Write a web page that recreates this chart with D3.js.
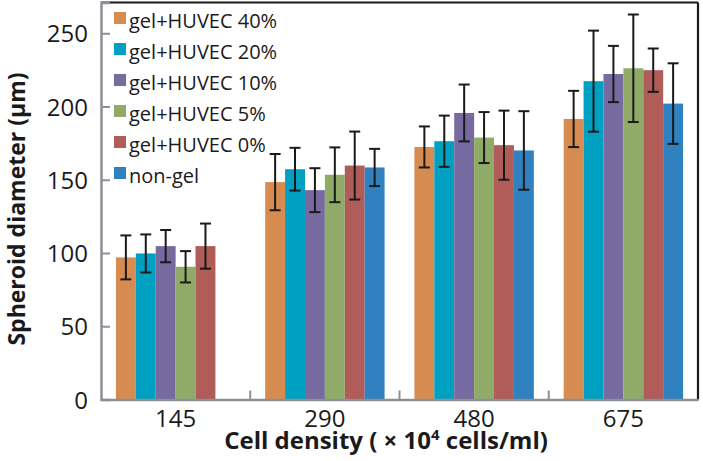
<!DOCTYPE html>
<html><head><meta charset="utf-8">
<script src="https://cdn.jsdelivr.net/npm/d3@7"></script>
<style>html,body{margin:0;padding:0;background:#fff;}svg{display:block;}</style>
</head><body>
<script>
const categories = ["145", "290", "480", "675"];
const seriesNames = ["gel+HUVEC 40%", "gel+HUVEC 20%", "gel+HUVEC 10%", "gel+HUVEC 5%", "gel+HUVEC 0%", "non-gel"];
const seriesColors = ["#d68b50", "#00a0c2", "#766aa0", "#90aa68", "#b05c58", "#2f81c0"];
// means per series, by category
const means = [
  [97, 148.4, 172.4, 191.5],
  [99.7, 157.2, 176.3, 217.3],
  [104.7, 142.9, 195.6, 222.2],
  [90.6, 153.4, 178.8, 226.1],
  [104.7, 159.7, 173.6, 224.8],
  [null, 158.4, 170, 202]
];
// error (± half-range) per series, by category
const errors = [
  [15, 19.2, 14, 19.2],
  [13, 14.6, 17.5, 34.5],
  [11, 15, 19.4, 19.2],
  [10.7, 18.7, 17.4, 36.7],
  [15.4, 23.2, 23.6, 14.8],
  [null, 12.7, 26.8, 27.5]
];
const yTicks = [0, 50, 100, 150, 200, 250];

const W = 703, H = 461;
const L = 101, R = 698, T = 2.5, B = 399.5;
const svg = d3.select("body").append("svg").attr("width", W).attr("height", H);

const x0 = d3.scaleBand().domain(categories).range([L, R]).paddingInner(0).paddingOuter(0);
const x1 = d3.scaleBand().domain(seriesNames).range([0, x0.bandwidth()]).paddingInner(0).paddingOuter(0.75);
const y = d3.scaleLinear().domain([0, 271]).range([B, T]);

const data = [];
seriesNames.forEach((s, i) => categories.forEach((c, j) => {
  if (means[i][j] != null) data.push({s, c, v: means[i][j], e: errors[i][j], color: seriesColors[i]});
}));

// bars
svg.append("g").selectAll("rect").data(data).join("rect")
  .attr("x", d => x0(d.c) + x1(d.s))
  .attr("width", x1.bandwidth())
  .attr("y", d => y(d.v))
  .attr("height", d => y(0) - y(d.v))
  .attr("fill", d => d.color);

// error bars
const eg = svg.append("g").attr("stroke", "#1a1a1a").attr("stroke-width", 2).attr("fill", "none");
data.forEach(d => {
  const cx = x0(d.c) + x1(d.s) + x1.bandwidth() / 2;
  const capW = 5.5;
  eg.append("line").attr("x1", cx).attr("x2", cx).attr("y1", y(d.v + d.e)).attr("y2", y(d.v - d.e));
  eg.append("line").attr("x1", cx - capW).attr("x2", cx + capW).attr("y1", y(d.v + d.e)).attr("y2", y(d.v + d.e));
  eg.append("line").attr("x1", cx - capW).attr("x2", cx + capW).attr("y1", y(d.v - d.e)).attr("y2", y(d.v - d.e));
});

// frame top/right
svg.append("line").attr("x1", L).attr("x2", R).attr("y1", T).attr("y2", T).attr("stroke", "#1a1a1a").attr("stroke-width", 2.2);
svg.append("line").attr("x1", R).attr("x2", R).attr("y1", T).attr("y2", B).attr("stroke", "#1a1a1a").attr("stroke-width", 2.2);

// y axis
const yAxis = d3.axisLeft(y).tickValues(yTicks).tickSize(-9).tickPadding(0).tickFormat(d3.format("d"));
const ya = svg.append("g").attr("transform", `translate(${L},0)`).call(yAxis);
ya.select(".domain").attr("stroke", "#8a9097").attr("stroke-width", 2.5);
ya.selectAll(".tick line").attr("stroke", "#8a9097").attr("stroke-width", 2);
ya.selectAll(".tick text").attr("x", -13).attr("dy", "0.36em").attr("fill", "#1a1a1a")
  .style("font-family", "'Open Sans', sans-serif").style("font-size", "24px");

// x axis
const xAxis = d3.axisBottom(x0).tickSize(0).tickPadding(0);
const xa = svg.append("g").attr("transform", `translate(0,${B})`).call(xAxis);
xa.select(".domain").attr("stroke", "#8a9097").attr("stroke-width", 2.5);
xa.selectAll(".tick text").attr("y", 27.5).attr("dy", 0).attr("fill", "#1a1a1a")
  .style("font-family", "'Open Sans', sans-serif").style("font-size", "24px");
// separators between categories
svg.append("g").selectAll("line").data(categories.slice(1)).join("line")
  .attr("x1", d => x0(d)).attr("x2", d => x0(d))
  .attr("y1", B).attr("y2", B - 9)
  .attr("stroke", "#8a9097").attr("stroke-width", 2);

// axis titles
const xt = svg.append("text").attr("x", 386).attr("y", 449).attr("text-anchor", "middle")
  .style("font-family", "'Open Sans', sans-serif").style("font-size", "24px").style("font-weight", "bold").attr("fill", "#1a1a1a");
xt.append("tspan").text("Cell density ( \u00d7 10");
xt.append("tspan").text("4").attr("dy", -9).style("font-size", "15px");
xt.append("tspan").text(" cells/ml)").attr("dy", 9);

svg.append("text").attr("transform", "translate(25,209) rotate(-90)").attr("text-anchor", "middle")
  .style("font-family", "'Open Sans', sans-serif").style("font-size", "23px").style("font-weight", "bold").attr("fill", "#1a1a1a")
  .text("Spheroid diameter (\u03bcm)");

// legend
const lg = svg.append("g").attr("transform", "translate(114,12)");
seriesNames.forEach((s, i) => {
  const row = lg.append("g").attr("transform", `translate(0,${i * 31})`);
  row.append("rect").attr("width", 12).attr("height", 12).attr("fill", seriesColors[i]);
  row.append("text").attr("x", 15).attr("y", 16).text(s).attr("fill", "#1a1a1a")
    .style("font-family", "'Open Sans', sans-serif").style("font-size", "20px");
});
</script>
</body></html>
